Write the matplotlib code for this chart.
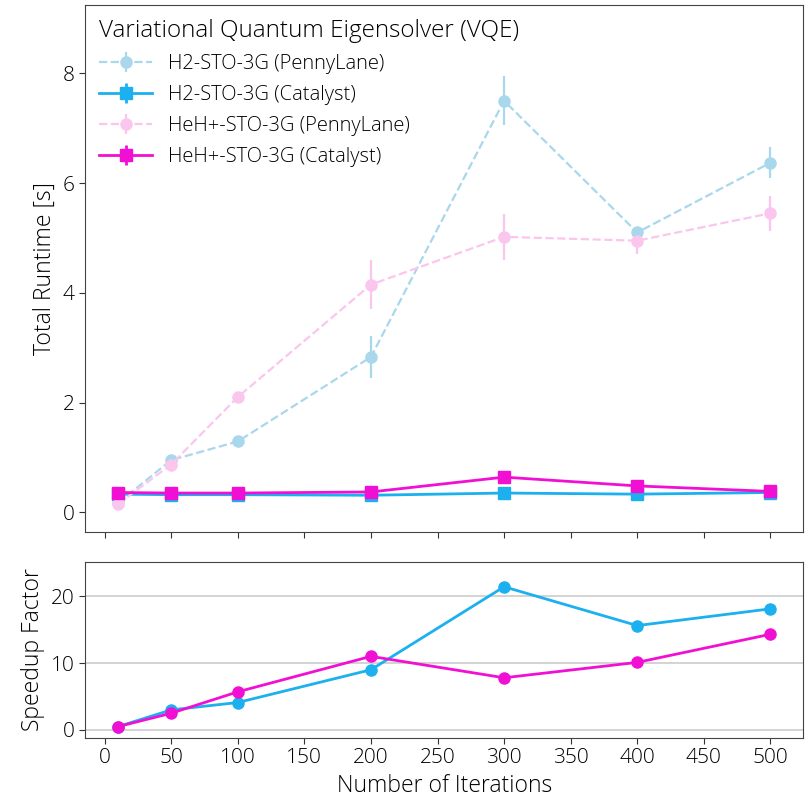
import numpy as np
import matplotlib
matplotlib.use("Agg")
import matplotlib.pyplot as plt

plt.rcParams['font.family'] = ['Open Sans', 'DejaVu Sans']
plt.rcParams['font.weight'] = 'light'
plt.rcParams['axes.labelweight'] = 'light'

iters = [10, 50, 100, 200, 300, 400, 500]

# total runtime [s]
h2_pl = [0.17, 0.95, 1.29, 2.83, 7.50, 5.10, 6.37]
h2_pl_err = [0.05, 0.10, 0.05, 0.38, 0.45, 0.10, 0.28]
h2_cat = [0.33, 0.32, 0.32, 0.31, 0.35, 0.33, 0.36]
h2_cat_err = [0.02, 0.02, 0.02, 0.02, 0.04, 0.02, 0.02]
heh_pl = [0.15, 0.87, 2.10, 4.15, 5.02, 4.95, 5.45]
heh_pl_err = [0.04, 0.08, 0.08, 0.45, 0.42, 0.25, 0.32]
heh_cat = [0.36, 0.35, 0.35, 0.37, 0.64, 0.48, 0.38]
heh_cat_err = [0.02, 0.02, 0.02, 0.03, 0.10, 0.04, 0.02]

# speedup factor
h2_speed = [0.5, 3.0, 4.1, 9.0, 21.4, 15.6, 18.1]
heh_speed = [0.5, 2.5, 5.7, 11.0, 7.8, 10.1, 14.3]

blue = '#1cb0ef'
magenta = '#f20fd4'
light_blue = '#a9d7ec'
light_pink = '#fbc6ee'

fig = plt.figure(figsize=(8.05, 8.0), dpi=100)
ax1 = fig.add_axes([0.106, 0.335, 0.8915, 0.659])
ax2 = fig.add_axes([0.106, 0.0775, 0.8915, 0.22], sharex=ax1)

ax1.errorbar(iters, h2_pl, yerr=h2_pl_err, color=light_blue, ls='--', lw=1.6,
             marker='o', ms=8, elinewidth=1.6, label='H2-STO-3G (PennyLane)')
ax1.errorbar(iters, h2_cat, yerr=h2_cat_err, color=blue, ls='-', lw=2,
             marker='s', ms=9, elinewidth=2, label='H2-STO-3G (Catalyst)')
ax1.errorbar(iters, heh_pl, yerr=heh_pl_err, color=light_pink, ls='--', lw=1.6,
             marker='o', ms=8, elinewidth=1.6, label='HeH+-STO-3G (PennyLane)')
ax1.errorbar(iters, heh_cat, yerr=heh_cat_err, color=magenta, ls='-', lw=2,
             marker='s', ms=9, elinewidth=2, label='HeH+-STO-3G (Catalyst)')

ax1.set_ylim(-0.36, 9.25)
ax1.set_yticks([0, 2, 4, 6, 8])
ax1.set_ylabel('Total Runtime [s]', fontsize=16.5)
ax1.tick_params(labelbottom=False)
leg = ax1.legend(loc='upper left', frameon=False, fontsize=14.5,
                 title='Variational Quantum Eigensolver (VQE)',
                 title_fontsize=17.5, alignment='left',
                 borderaxespad=0.3, handlelength=2.6, labelspacing=0.55)

ax2.plot(iters, h2_speed, color=blue, lw=2, marker='o', ms=8)
ax2.plot(iters, heh_speed, color=magenta, lw=2, marker='o', ms=8)
ax2.set_ylim(-1.2, 25.1)
ax2.set_yticks([0, 10, 20])
ax2.yaxis.grid(True, color='#cccccc', lw=1.2)
ax2.set_axisbelow(True)
ax2.set_xticks(np.arange(0, 501, 50))
ax2.set_xlabel('Number of Iterations', fontsize=16.5)
ax2.set_ylabel('Speedup Factor', fontsize=16.5)

for ax in (ax1, ax2):
    ax.tick_params(labelsize=15, color='#333333', length=4)
    for s in ax.spines.values():
        s.set_color('#444444')

fig.savefig('out.png', dpi=100)
